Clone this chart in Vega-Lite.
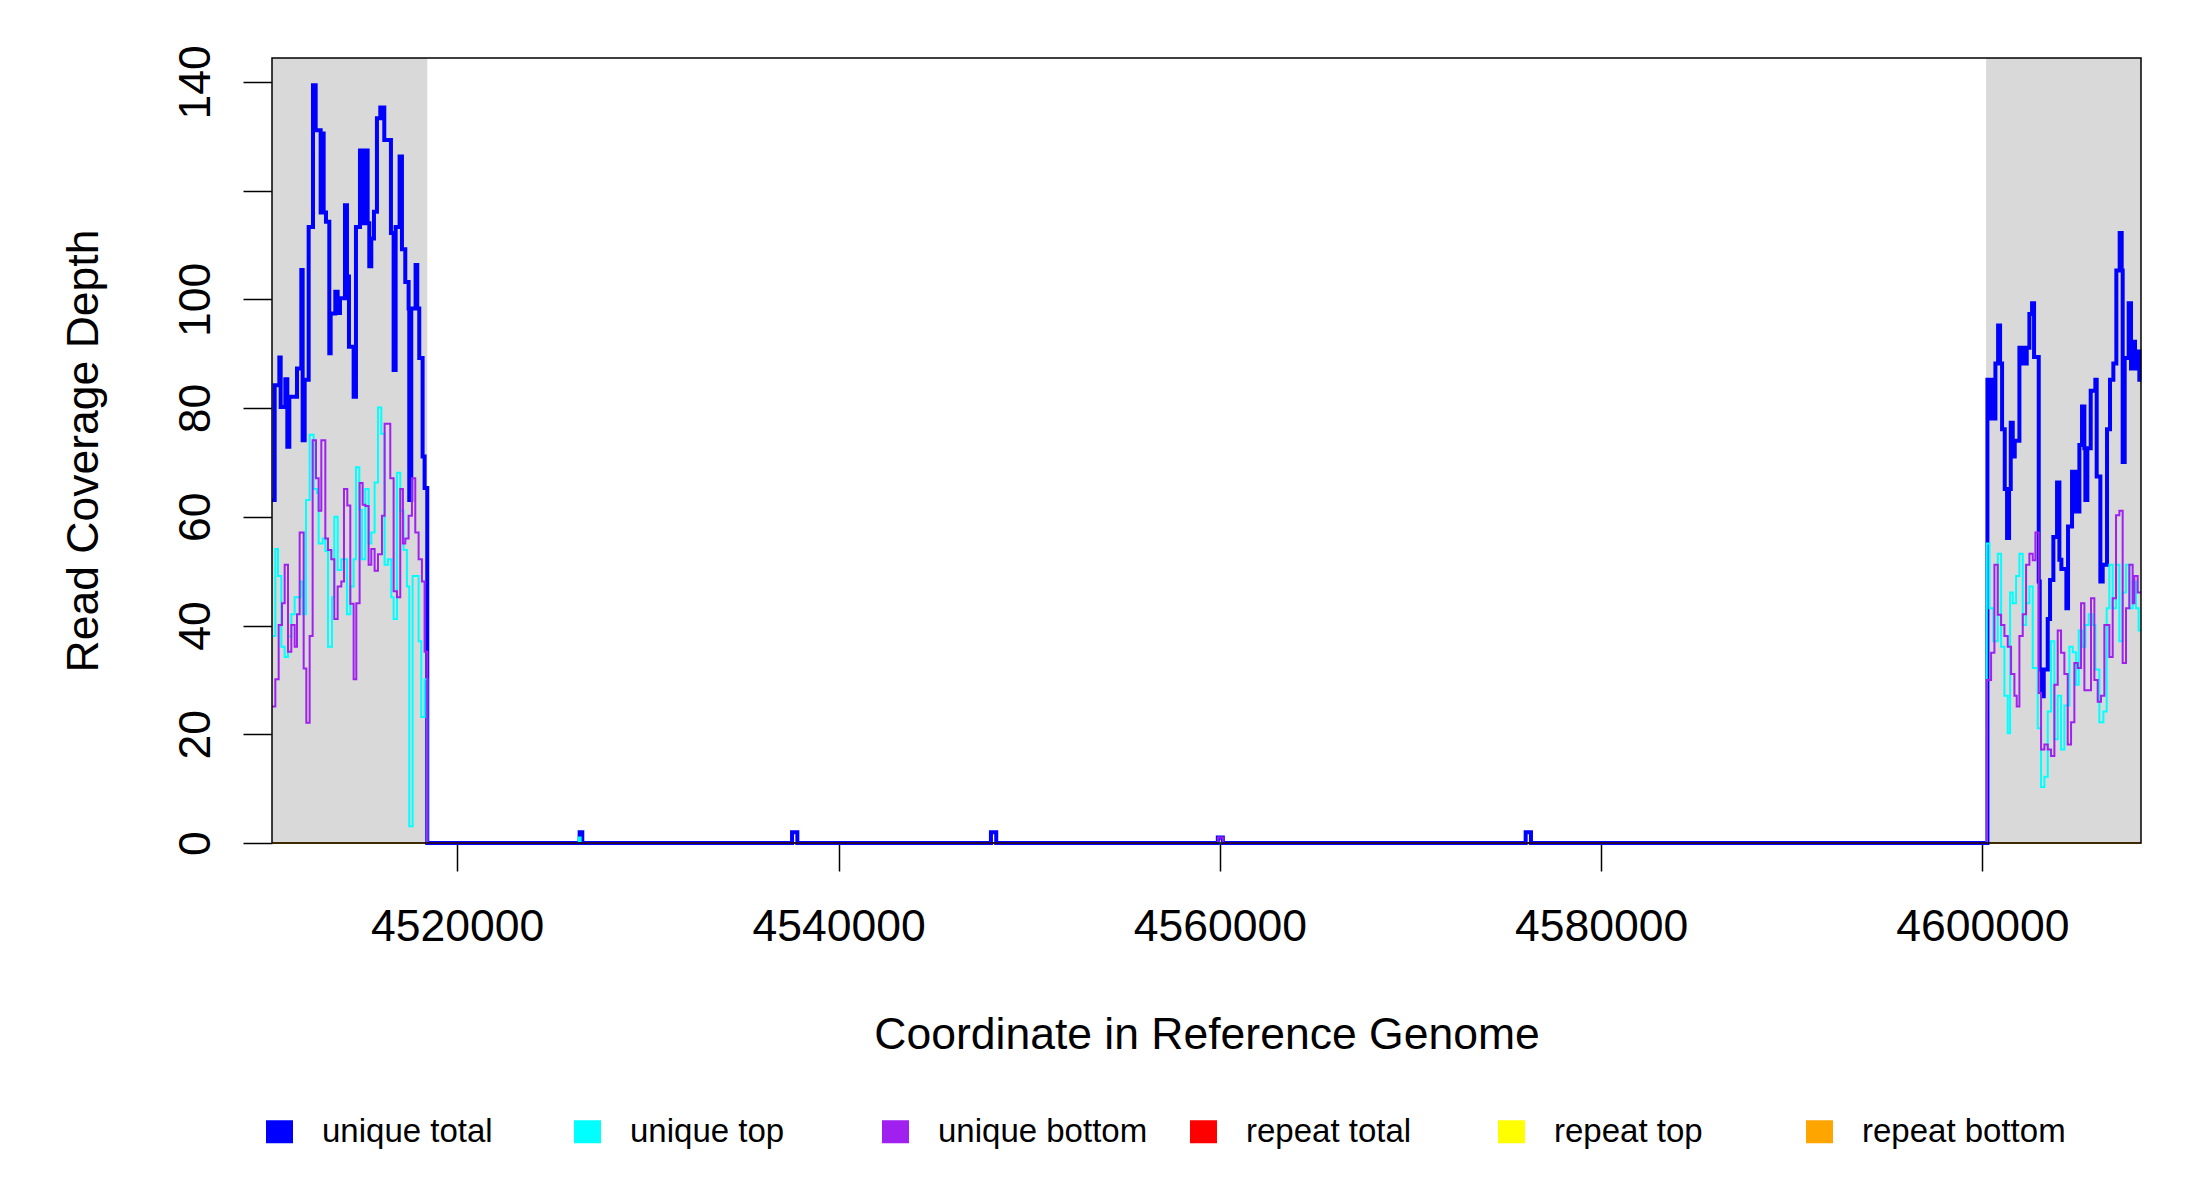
{
"$schema": "https://vega.github.io/schema/vega-lite/v6.json",
"autosize": {"type": "none"},
"width": 1869,
"height": 785,
"padding": {"left": 272, "top": 58, "right": 59, "bottom": 357},
"background": "white",
"config": {"view": {"stroke": null}, "font": "Liberation Sans"},
"datasets": {
"bands": [{"start": 4510284, "end": 4518430}, {"start": 4600194, "end": 4608318}],
"cov": [
{"series":"repeat total","pos":4510284,"depth":0},{"series":"repeat total","pos":4608318,"depth":0},
{"series":"repeat top","pos":4510284,"depth":0},{"series":"repeat top","pos":4608318,"depth":0},
{"series":"repeat bottom","pos":4510284,"depth":0},{"series":"repeat bottom","pos":4608318,"depth":0},
{"series":"unique total","pos":4510284,"depth":63.1},
{"series":"unique total","pos":4510424,"depth":84.2},
{"series":"unique total","pos":4510669,"depth":89.3},
{"series":"unique total","pos":4510739,"depth":80.2},
{"series":"unique total","pos":4510983,"depth":85.3},
{"series":"unique total","pos":4511088,"depth":72.9},
{"series":"unique total","pos":4511193,"depth":82.1},
{"series":"unique total","pos":4511595,"depth":87.3},
{"series":"unique total","pos":4511822,"depth":105.4},
{"series":"unique total","pos":4511892,"depth":74.1},
{"series":"unique total","pos":4511997,"depth":85.2},
{"series":"unique total","pos":4512207,"depth":113.3},
{"series":"unique total","pos":4512434,"depth":139.4},
{"series":"unique total","pos":4512574,"depth":131.1},
{"series":"unique total","pos":4512836,"depth":116},
{"series":"unique total","pos":4512906,"depth":130.5},
{"series":"unique total","pos":4512993,"depth":116},
{"series":"unique total","pos":4513115,"depth":114.3},
{"series":"unique total","pos":4513290,"depth":90.1},
{"series":"unique total","pos":4513360,"depth":97.4},
{"series":"unique total","pos":4513605,"depth":101.4},
{"series":"unique total","pos":4513727,"depth":97.5},
{"series":"unique total","pos":4513849,"depth":100.2},
{"series":"unique total","pos":4514112,"depth":117.3},
{"series":"unique total","pos":4514216,"depth":104.2},
{"series":"unique total","pos":4514321,"depth":91.3},
{"series":"unique total","pos":4514566,"depth":82.1},
{"series":"unique total","pos":4514688,"depth":113.3},
{"series":"unique total","pos":4514898,"depth":127.4},
{"series":"unique total","pos":4515020,"depth":114},
{"series":"unique total","pos":4515178,"depth":127.4},
{"series":"unique total","pos":4515300,"depth":114},
{"series":"unique total","pos":4515387,"depth":106.1},
{"series":"unique total","pos":4515492,"depth":111.2},
{"series":"unique total","pos":4515632,"depth":116.1},
{"series":"unique total","pos":4515789,"depth":133.3},
{"series":"unique total","pos":4515964,"depth":135.3},
{"series":"unique total","pos":4516174,"depth":129.3},
{"series":"unique total","pos":4516523,"depth":112.2},
{"series":"unique total","pos":4516663,"depth":87},
{"series":"unique total","pos":4516768,"depth":113.3},
{"series":"unique total","pos":4516977,"depth":126.3},
{"series":"unique total","pos":4517100,"depth":109.2},
{"series":"unique total","pos":4517275,"depth":103.2},
{"series":"unique total","pos":4517449,"depth":98.3},
{"series":"unique total","pos":4517484,"depth":63.1},
{"series":"unique total","pos":4517589,"depth":98.3},
{"series":"unique total","pos":4517816,"depth":106.3},
{"series":"unique total","pos":4517904,"depth":98.3},
{"series":"unique total","pos":4518008,"depth":89.2},
{"series":"unique total","pos":4518183,"depth":71.1},
{"series":"unique total","pos":4518288,"depth":65.3},
{"series":"unique total","pos":4518428,"depth":0},
{"series":"unique total","pos":4526420,"depth":2},
{"series":"unique total","pos":4526560,"depth":0},
{"series":"unique total","pos":4537562,"depth":2},
{"series":"unique total","pos":4537840,"depth":0},
{"series":"unique total","pos":4547995,"depth":2},
{"series":"unique total","pos":4548272,"depth":0},
{"series":"unique total","pos":4559895,"depth":1},
{"series":"unique total","pos":4560157,"depth":0},
{"series":"unique total","pos":4576042,"depth":2},
{"series":"unique total","pos":4576320,"depth":0},
{"series":"unique total","pos":4600262,"depth":85.2},
{"series":"unique total","pos":4600367,"depth":78.1},
{"series":"unique total","pos":4600507,"depth":85.2},
{"series":"unique total","pos":4600577,"depth":78.1},
{"series":"unique total","pos":4600682,"depth":88.2},
{"series":"unique total","pos":4600822,"depth":95.2},
{"series":"unique total","pos":4600926,"depth":88.2},
{"series":"unique total","pos":4601031,"depth":76.1},
{"series":"unique total","pos":4601171,"depth":65.1},
{"series":"unique total","pos":4601293,"depth":56.1},
{"series":"unique total","pos":4601398,"depth":65.1},
{"series":"unique total","pos":4601486,"depth":77.3},
{"series":"unique total","pos":4601591,"depth":71.1},
{"series":"unique total","pos":4601695,"depth":74},
{"series":"unique total","pos":4601940,"depth":91.1},
{"series":"unique total","pos":4602045,"depth":88.2},
{"series":"unique total","pos":4602150,"depth":91.1},
{"series":"unique total","pos":4602220,"depth":88.2},
{"series":"unique total","pos":4602324,"depth":91.1},
{"series":"unique total","pos":4602464,"depth":97.3},
{"series":"unique total","pos":4602604,"depth":99.3},
{"series":"unique total","pos":4602709,"depth":89.4},
{"series":"unique total","pos":4602954,"depth":48.1},
{"series":"unique total","pos":4603006,"depth":31.9},
{"series":"unique total","pos":4603128,"depth":27},
{"series":"unique total","pos":4603216,"depth":31.9},
{"series":"unique total","pos":4603426,"depth":41.2},
{"series":"unique total","pos":4603548,"depth":48.4},
{"series":"unique total","pos":4603722,"depth":56.3},
{"series":"unique total","pos":4603915,"depth":66.3},
{"series":"unique total","pos":4604037,"depth":52.1},
{"series":"unique total","pos":4604142,"depth":50.4},
{"series":"unique total","pos":4604404,"depth":43.2},
{"series":"unique total","pos":4604491,"depth":58.2},
{"series":"unique total","pos":4604701,"depth":68.3},
{"series":"unique total","pos":4604823,"depth":61},
{"series":"unique total","pos":4604946,"depth":68.3},
{"series":"unique total","pos":4605033,"depth":61},
{"series":"unique total","pos":4605086,"depth":73.2},
{"series":"unique total","pos":4605225,"depth":80.3},
{"series":"unique total","pos":4605348,"depth":72.6},
{"series":"unique total","pos":4605400,"depth":63.1},
{"series":"unique total","pos":4605505,"depth":72.6},
{"series":"unique total","pos":4605680,"depth":83.2},
{"series":"unique total","pos":4605924,"depth":85.2},
{"series":"unique total","pos":4605994,"depth":67.4},
{"series":"unique total","pos":4606186,"depth":48.1},
{"series":"unique total","pos":4606309,"depth":51.2},
{"series":"unique total","pos":4606536,"depth":76.1},
{"series":"unique total","pos":4606693,"depth":85.2},
{"series":"unique total","pos":4606868,"depth":88.2},
{"series":"unique total","pos":4607025,"depth":105.3},
{"series":"unique total","pos":4607200,"depth":112.2},
{"series":"unique total","pos":4607305,"depth":105.3},
{"series":"unique total","pos":4607357,"depth":70.1},
{"series":"unique total","pos":4607462,"depth":89.2},
{"series":"unique total","pos":4607672,"depth":99.3},
{"series":"unique total","pos":4607794,"depth":87.3},
{"series":"unique total","pos":4607899,"depth":92.2},
{"series":"unique total","pos":4608004,"depth":87.3},
{"series":"unique total","pos":4608109,"depth":90.4},
{"series":"unique total","pos":4608231,"depth":85.2},
{"series":"unique total","pos":4608318,"depth":85.2},
{"series":"unique top","pos":4510284,"depth":38.1},
{"series":"unique top","pos":4510459,"depth":54.1},
{"series":"unique top","pos":4510599,"depth":49.1},
{"series":"unique top","pos":4510774,"depth":36.1},
{"series":"unique top","pos":4510949,"depth":34.2},
{"series":"unique top","pos":4511123,"depth":38},
{"series":"unique top","pos":4511298,"depth":42.1},
{"series":"unique top","pos":4511473,"depth":45.2},
{"series":"unique top","pos":4511770,"depth":48.1},
{"series":"unique top","pos":4511892,"depth":42.1},
{"series":"unique top","pos":4512067,"depth":63.1},
{"series":"unique top","pos":4512259,"depth":75.1},
{"series":"unique top","pos":4512469,"depth":65.1},
{"series":"unique top","pos":4512644,"depth":64.4},
{"series":"unique top","pos":4512731,"depth":55.1},
{"series":"unique top","pos":4512941,"depth":56},
{"series":"unique top","pos":4513081,"depth":53.7},
{"series":"unique top","pos":4513220,"depth":36.1},
{"series":"unique top","pos":4513430,"depth":45.2},
{"series":"unique top","pos":4513552,"depth":60},
{"series":"unique top","pos":4513727,"depth":50.2},
{"series":"unique top","pos":4513919,"depth":52.2},
{"series":"unique top","pos":4514216,"depth":42.1},
{"series":"unique top","pos":4514391,"depth":47.2},
{"series":"unique top","pos":4514566,"depth":52.2},
{"series":"unique top","pos":4514688,"depth":69.1},
{"series":"unique top","pos":4514863,"depth":61.3},
{"series":"unique top","pos":4515003,"depth":52.2},
{"series":"unique top","pos":4515178,"depth":65.1},
{"series":"unique top","pos":4515352,"depth":55.1},
{"series":"unique top","pos":4515492,"depth":57.1},
{"series":"unique top","pos":4515667,"depth":66.3},
{"series":"unique top","pos":4515842,"depth":80.1},
{"series":"unique top","pos":4516016,"depth":75.3},
{"series":"unique top","pos":4516191,"depth":51.2},
{"series":"unique top","pos":4516366,"depth":52.2},
{"series":"unique top","pos":4516541,"depth":45.2},
{"series":"unique top","pos":4516663,"depth":41.2},
{"series":"unique top","pos":4516838,"depth":68.1},
{"series":"unique top","pos":4517012,"depth":61.1},
{"series":"unique top","pos":4517187,"depth":53.9},
{"series":"unique top","pos":4517362,"depth":47.2},
{"series":"unique top","pos":4517484,"depth":3.1},
{"series":"unique top","pos":4517659,"depth":49.1},
{"series":"unique top","pos":4517974,"depth":37.1},
{"series":"unique top","pos":4518113,"depth":23.2},
{"series":"unique top","pos":4518288,"depth":30.1},
{"series":"unique top","pos":4518428,"depth":0},
{"series":"unique top","pos":4526370,"depth":1},
{"series":"unique top","pos":4526470,"depth":0},
{"series":"unique top","pos":4600227,"depth":55.1},
{"series":"unique top","pos":4600367,"depth":43.2},
{"series":"unique top","pos":4600577,"depth":37.1},
{"series":"unique top","pos":4600804,"depth":53.2},
{"series":"unique top","pos":4600979,"depth":36.1},
{"series":"unique top","pos":4601154,"depth":27.1},
{"series":"unique top","pos":4601328,"depth":20.2},
{"series":"unique top","pos":4601451,"depth":46.1},
{"series":"unique top","pos":4601591,"depth":44.1},
{"series":"unique top","pos":4601765,"depth":49.1},
{"series":"unique top","pos":4601940,"depth":53.2},
{"series":"unique top","pos":4602115,"depth":40.1},
{"series":"unique top","pos":4602290,"depth":44.1},
{"series":"unique top","pos":4602464,"depth":47.2},
{"series":"unique top","pos":4602639,"depth":32.2},
{"series":"unique top","pos":4602901,"depth":21.1},
{"series":"unique top","pos":4603076,"depth":10.3},
{"series":"unique top","pos":4603251,"depth":12.2},
{"series":"unique top","pos":4603426,"depth":24.2},
{"series":"unique top","pos":4603600,"depth":37.1},
{"series":"unique top","pos":4603775,"depth":19.1},
{"series":"unique top","pos":4603950,"depth":27.1},
{"series":"unique top","pos":4604124,"depth":17.2},
{"series":"unique top","pos":4604299,"depth":25.3},
{"series":"unique top","pos":4604561,"depth":36.1},
{"series":"unique top","pos":4604736,"depth":35.1},
{"series":"unique top","pos":4604911,"depth":29.1},
{"series":"unique top","pos":4605051,"depth":39.1},
{"series":"unique top","pos":4605225,"depth":36.1},
{"series":"unique top","pos":4605400,"depth":40.1},
{"series":"unique top","pos":4605575,"depth":42.1},
{"series":"unique top","pos":4605750,"depth":40.1},
{"series":"unique top","pos":4605924,"depth":31.9},
{"series":"unique top","pos":4606134,"depth":22.2},
{"series":"unique top","pos":4606344,"depth":24.2},
{"series":"unique top","pos":4606518,"depth":43.2},
{"series":"unique top","pos":4606658,"depth":51.2},
{"series":"unique top","pos":4606833,"depth":43.2},
{"series":"unique top","pos":4607008,"depth":51.2},
{"series":"unique top","pos":4607183,"depth":37.1},
{"series":"unique top","pos":4607357,"depth":46.1},
{"series":"unique top","pos":4607532,"depth":51.2},
{"series":"unique top","pos":4607707,"depth":43.2},
{"series":"unique top","pos":4607881,"depth":48.1},
{"series":"unique top","pos":4608056,"depth":43.2},
{"series":"unique top","pos":4608196,"depth":39.1},
{"series":"unique top","pos":4608318,"depth":39.1},
{"series":"unique bottom","pos":4510284,"depth":25.1},
{"series":"unique bottom","pos":4510459,"depth":30.1},
{"series":"unique bottom","pos":4510634,"depth":40.1},
{"series":"unique bottom","pos":4510809,"depth":44.1},
{"series":"unique bottom","pos":4510949,"depth":51.2},
{"series":"unique bottom","pos":4511123,"depth":35.2},
{"series":"unique bottom","pos":4511298,"depth":40.1},
{"series":"unique bottom","pos":4511473,"depth":36.1},
{"series":"unique bottom","pos":4511595,"depth":42.1},
{"series":"unique bottom","pos":4511735,"depth":57.1},
{"series":"unique bottom","pos":4511945,"depth":32.1},
{"series":"unique bottom","pos":4512084,"depth":22.1},
{"series":"unique bottom","pos":4512259,"depth":38.1},
{"series":"unique bottom","pos":4512416,"depth":74.1},
{"series":"unique bottom","pos":4512591,"depth":67.1},
{"series":"unique bottom","pos":4512731,"depth":61.1},
{"series":"unique bottom","pos":4512871,"depth":74.1},
{"series":"unique bottom","pos":4513081,"depth":56},
{"series":"unique bottom","pos":4513220,"depth":53.9},
{"series":"unique bottom","pos":4513395,"depth":52.2},
{"series":"unique bottom","pos":4513552,"depth":41.2},
{"series":"unique bottom","pos":4513727,"depth":47.2},
{"series":"unique bottom","pos":4513919,"depth":48.1},
{"series":"unique bottom","pos":4514059,"depth":65.1},
{"series":"unique bottom","pos":4514234,"depth":62.1},
{"series":"unique bottom","pos":4514391,"depth":44},
{"series":"unique bottom","pos":4514566,"depth":30.1},
{"series":"unique bottom","pos":4514706,"depth":44.1},
{"series":"unique bottom","pos":4514880,"depth":66.2},
{"series":"unique bottom","pos":4515038,"depth":62.2},
{"series":"unique bottom","pos":4515178,"depth":62},
{"series":"unique bottom","pos":4515352,"depth":51.2},
{"series":"unique bottom","pos":4515492,"depth":54.1},
{"series":"unique bottom","pos":4515667,"depth":50.1},
{"series":"unique bottom","pos":4515842,"depth":53.1},
{"series":"unique bottom","pos":4516051,"depth":60.2},
{"series":"unique bottom","pos":4516191,"depth":77.1},
{"series":"unique bottom","pos":4516488,"depth":67.1},
{"series":"unique bottom","pos":4516663,"depth":46.3},
{"series":"unique bottom","pos":4516838,"depth":45.2},
{"series":"unique bottom","pos":4517012,"depth":65.1},
{"series":"unique bottom","pos":4517152,"depth":55.1},
{"series":"unique bottom","pos":4517275,"depth":56},
{"series":"unique bottom","pos":4517449,"depth":60.2},
{"series":"unique bottom","pos":4517624,"depth":67.1},
{"series":"unique bottom","pos":4517799,"depth":57.1},
{"series":"unique bottom","pos":4517974,"depth":52.2},
{"series":"unique bottom","pos":4518148,"depth":48.1},
{"series":"unique bottom","pos":4518288,"depth":35.2},
{"series":"unique bottom","pos":4518428,"depth":0},
{"series":"unique bottom","pos":4559895,"depth":1},
{"series":"unique bottom","pos":4560157,"depth":0},
{"series":"unique bottom","pos":4600227,"depth":30},
{"series":"unique bottom","pos":4600455,"depth":35},
{"series":"unique bottom","pos":4600629,"depth":51.2},
{"series":"unique bottom","pos":4600804,"depth":42},
{"series":"unique bottom","pos":4600979,"depth":40.1},
{"series":"unique bottom","pos":4601154,"depth":38.1},
{"series":"unique bottom","pos":4601328,"depth":36.1},
{"series":"unique bottom","pos":4601503,"depth":31.1},
{"series":"unique bottom","pos":4601678,"depth":27.1},
{"series":"unique bottom","pos":4601800,"depth":25.1},
{"series":"unique bottom","pos":4601940,"depth":38.1},
{"series":"unique bottom","pos":4602115,"depth":42.1},
{"series":"unique bottom","pos":4602290,"depth":51.2},
{"series":"unique bottom","pos":4602464,"depth":53.2},
{"series":"unique bottom","pos":4602639,"depth":52},
{"series":"unique bottom","pos":4602779,"depth":57.1},
{"series":"unique bottom","pos":4602954,"depth":27.6},
{"series":"unique bottom","pos":4603076,"depth":17.2},
{"series":"unique bottom","pos":4603251,"depth":18.1},
{"series":"unique bottom","pos":4603426,"depth":17.2},
{"series":"unique bottom","pos":4603600,"depth":16},
{"series":"unique bottom","pos":4603775,"depth":29.1},
{"series":"unique bottom","pos":4603950,"depth":39.1},
{"series":"unique bottom","pos":4604124,"depth":35},
{"series":"unique bottom","pos":4604299,"depth":31.1},
{"series":"unique bottom","pos":4604474,"depth":18.1},
{"series":"unique bottom","pos":4604649,"depth":22.2},
{"series":"unique bottom","pos":4604823,"depth":33.1},
{"series":"unique bottom","pos":4604998,"depth":32.2},
{"series":"unique bottom","pos":4605173,"depth":44.1},
{"series":"unique bottom","pos":4605348,"depth":28.1},
{"series":"unique bottom","pos":4605697,"depth":45},
{"series":"unique bottom","pos":4605872,"depth":30},
{"series":"unique bottom","pos":4606047,"depth":26},
{"series":"unique bottom","pos":4606221,"depth":27.1},
{"series":"unique bottom","pos":4606396,"depth":40.1},
{"series":"unique bottom","pos":4606658,"depth":34.2},
{"series":"unique bottom","pos":4606833,"depth":45},
{"series":"unique bottom","pos":4607008,"depth":60.3},
{"series":"unique bottom","pos":4607183,"depth":61.1},
{"series":"unique bottom","pos":4607357,"depth":33.1},
{"series":"unique bottom","pos":4607532,"depth":43.2},
{"series":"unique bottom","pos":4607707,"depth":51.2},
{"series":"unique bottom","pos":4607881,"depth":44.1},
{"series":"unique bottom","pos":4607969,"depth":49.1},
{"series":"unique bottom","pos":4608144,"depth":46.1},
{"series":"unique bottom","pos":4608318,"depth":46.1}
]
},
"layer": [
{
"data": {"name": "bands"},
"mark": {"type": "rect", "color": "#d9d9d9"},
"encoding": {
"x": {"field": "start", "type": "quantitative", "scale": {"domain": [4510284, 4608318], "nice": false, "zero": false},
"axis": {"values": [4520000, 4540000, 4560000, 4580000, 4600000], "format": "d", "title": "Coordinate in Reference Genome",
"domain": false, "grid": false, "tickSize": 28, "tickColor": "black", "tickWidth": 1.5,
"labelFont": "Liberation Sans", "labelFontSize": 44.5, "labelColor": "black", "labelBaseline": "alphabetic", "labelPadding": 69, "labelFlush": false, "labelOverlap": false,
"titleFont": "Liberation Sans", "titleFontSize": 44.5, "titleFontWeight": "normal", "titleColor": "black", "titleBaseline": "alphabetic", "titleY": 205}},
"x2": {"field": "end"},
"y": {"datum": 0, "type": "quantitative", "scale": {"domain": [0, 144.4], "nice": false},
"axis": {"values": [0, 20, 40, 60, 80, 100, 120, 140], "labelExpr": "datum.value == 120 ? '' : datum.label", "title": "Read Coverage Depth",
"domain": false, "grid": false, "tickSize": 29, "tickColor": "black", "tickWidth": 1.5,
"labelFont": "Liberation Sans", "labelFontSize": 44.5, "labelColor": "black", "labelAngle": -90, "labelAlign": "center", "labelBaseline": "alphabetic", "labelPadding": 34, "labelOverlap": false, "labelFlush": false,
"titleFont": "Liberation Sans", "titleFontSize": 44.5, "titleFontWeight": "normal", "titleColor": "black", "titleAngle": 270, "titleBaseline": "alphabetic", "titleAlign": "center", "titleX": -175, "titleY": 392.5}},
"y2": {"datum": 144.4}
}
},
{
"data": {"name": "cov"},
"encoding": {
"x": {"field": "pos", "type": "quantitative"},
"y": {"field": "depth", "type": "quantitative"},
"color": {"field": "series", "type": "nominal",
"scale": {"domain": ["unique total", "unique top", "unique bottom", "repeat total", "repeat top", "repeat bottom"],
"range": ["#0000ff", "#00ffff", "#a020f0", "#ff0000", "#ffff00", "#ffa500"]},
"legend": {"orient": "none", "legendX": -9, "legendY": 1057, "direction": "horizontal", "columns": 6, "gridAlign": "all", "columnPadding": 38,
"title": null, "symbolType": "M-1,-0.84L1,-0.84L1,0.84L-1,0.84Z", "symbolSize": 600, "symbolStrokeColor": "black", "symbolStrokeWidth": 2.5,
"labelFont": "Liberation Sans", "labelFontSize": 33, "labelColor": "black", "labelOffset": 26, "labelLimit": 500, "padding": 0,
"encode": {"symbols": {"stroke": {"value": "#000000"}, "strokeWidth": {"value": 2.5}, "update": {"fill": {"scale": "color", "field": "value"}, "fillOpacity": {"value": 1}, "stroke": {"value": "#000000"}, "strokeWidth": {"value": 2.5}, "strokeOpacity": {"value": 1}}}}}}
},
"layer": [
{"transform": [{"filter": "datum.series == 'repeat total'"}], "mark": {"type": "line", "interpolate": "step-after", "strokeWidth": 2}},
{"transform": [{"filter": "datum.series == 'repeat top'"}], "mark": {"type": "line", "interpolate": "step-after", "strokeWidth": 2}},
{"transform": [{"filter": "datum.series == 'repeat bottom'"}], "mark": {"type": "line", "interpolate": "step-after", "strokeWidth": 2}},
{"transform": [{"filter": "datum.series == 'unique total'"}], "mark": {"type": "line", "interpolate": "step-after", "strokeWidth": 4}},
{"transform": [{"filter": "datum.series == 'unique top'"}], "mark": {"type": "line", "interpolate": "step-after", "strokeWidth": 2}},
{"transform": [{"filter": "datum.series == 'unique bottom'"}], "mark": {"type": "line", "interpolate": "step-after", "strokeWidth": 2}}
]
},
{
"data": {"values": [{}]},
"mark": {"type": "rect", "fillOpacity": 0, "stroke": "black", "strokeWidth": 1.5},
"encoding": {
"x": {"datum": 4510284, "type": "quantitative"},
"x2": {"datum": 4608318},
"y": {"datum": 0, "type": "quantitative"},
"y2": {"datum": 144.4}
}
}
]
}
